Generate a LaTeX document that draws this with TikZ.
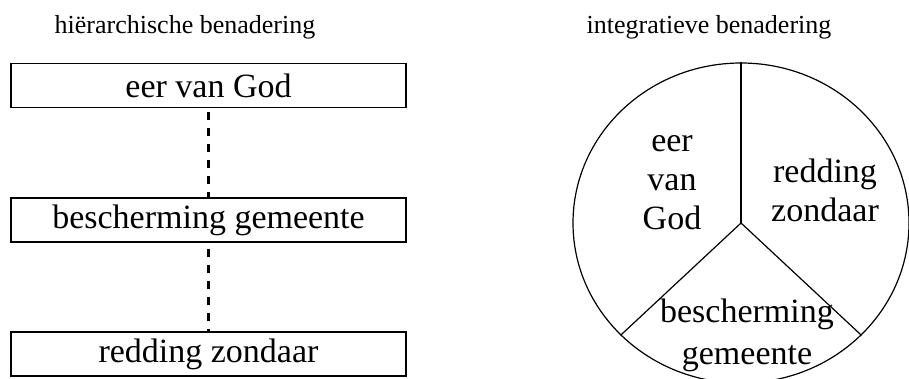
\documentclass[tikz,border=0pt]{standalone}
\usepackage{fontspec}
\setmainfont{Liberation Serif}
\usetikzlibrary{positioning,shapes.geometric}
\tikzset{level/.style={rectangle,draw,line width=1.4pt,minimum width=395pt,minimum height=44pt,inner sep=0pt,font=\fontsize{34}{39}\selectfont},heading/.style={inner sep=0pt,font=\fontsize{26}{30}\selectfont},slice/.style={align=center,inner sep=0pt,font=\fontsize{34}{39}\selectfont},link/.style={line width=2.2pt,dash pattern=on 8pt off 8pt},divider/.style={line width=1.2pt},every picture/.style={line cap=butt}}
\begin{document}
\begin{tikzpicture}[x=1pt,y=-1pt]
\useasboundingbox (0,0) rectangle (909,379);
\node[heading] (thier) at (185,27) {hiërarchische benadering};
\node[heading] (tint) at (709,27) {integratieve benadering};
\node[level] (god) at (208.5,85.5) {eer van God};
\node[level] (kerk) at (208.5,220) {bescherming gemeente};
\node[level] (red) at (208.5,354) {redding zondaar};
\draw[link] ([yshift=-4pt]god.south)--(kerk.north);
\draw[link] ([yshift=-6pt]kerk.south)--(red.north);
\node[ellipse,draw,divider,minimum width=336pt,minimum height=320pt,inner sep=0pt] (pie) at (741,223) {};
\draw[divider] (pie.center)--(pie.90);
\draw[divider] (pie.center)--(pie.-137);
\draw[divider] (pie.center)--(pie.-43);
\node[slice] (sgod) at (672,183) {eer\\van\\God};
\node[slice] (sred) at (825,190) {redding\\zondaar};
\node[slice,font=\fontsize{34}{42}\selectfont] (skerk) at (747,335) {bescherming\\gemeente};
\end{tikzpicture}
\end{document}
